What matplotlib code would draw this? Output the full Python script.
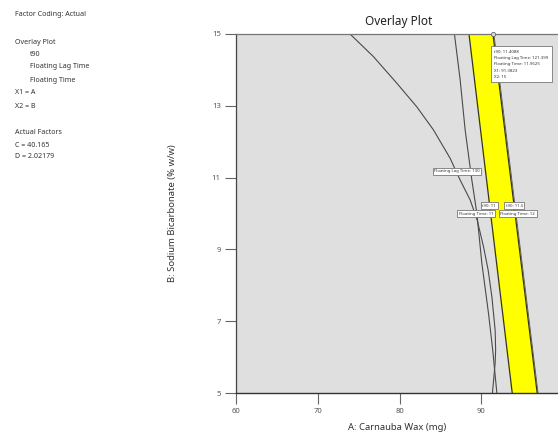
import matplotlib
matplotlib.use('Agg')
import matplotlib.pyplot as plt

plt.rcParams['font.family'] = ['Noto Sans', 'DejaVu Sans']

# contour lines (A, B)
lag130_a = [73.95, 76.81, 79.67, 82.12, 84.15, 86.19, 87.42, 88.64, 89.50, 90.27, 90.84, 91.30, 91.70, 91.76, 91.70, 91.37]
lag130_b = [15.0, 14.37, 13.63, 12.97, 12.33, 11.54, 10.93, 10.38, 9.82, 9.08, 8.43, 7.68, 6.75, 6.20, 5.84, 5.0]
ft11_a = [86.72, 87.42, 88.03, 88.85, 89.46, 90.07, 90.88, 91.40, 91.91]
ft11_b = [15.0, 13.72, 12.33, 10.93, 10.01, 8.62, 7.23, 6.20, 5.0]
t90_11_a = [88.5, 93.79]
t90_11_b = [15.0, 5.0]
t90_115_a = [91.43, 96.84]
t90_115_b = [15.0, 5.0]
ft12_a = [91.55, 96.95]
ft12_b = [15.0, 5.0]

# contour labels
lbl_text = ['Floating Lag Time: 130', 't90: 11', 't90: 11.5', 'Floating Time: 11', 'Floating Time: 12']
lbl_a = [87.05, 90.97, 94.03, 89.38, 94.45]
lbl_b = [11.18, 10.21, 10.21, 9.99, 9.99]

# flag point
flag_a = 91.3823
flag_b = 15
flag_text = 't90: 11.4088\nFloating Lag Time: 121.399\nFloating Time: 11.9625\nX1: 91.3823\nX2: 15'

xticks = [60, 70, 80, 90, 100]
yticks = [5, 7, 9, 11, 13, 15]

fig = plt.figure(figsize=(5.58, 4.41), dpi=100)
ax = fig.add_axes([236/558, 1-393/441, (563-236)/558, (393-34)/441])
ax.set_facecolor('#dfdfdf')

# yellow feasible band between t90 11 and t90 11.5
ax.fill(t90_11_a + t90_115_a[::-1], t90_11_b + t90_115_b[::-1], color='#ffff00', zorder=1)

lc = '#4a4a4a'
ax.plot(lag130_a, lag130_b, color=lc, lw=0.8, zorder=2)
ax.plot(ft11_a, ft11_b, color=lc, lw=0.8, zorder=2)
ax.plot(t90_11_a, t90_11_b, color='#333333', lw=0.9, zorder=2)
ax.plot(t90_115_a, t90_115_b, color='#333333', lw=0.9, zorder=2)
ax.plot(ft12_a, ft12_b, color='#555555', lw=0.6, zorder=2)

for t, a, b in zip(lbl_text, lbl_a, lbl_b):
    ax.text(a, b, t, fontsize=3.1, ha='center', va='center', color='#333333', zorder=4,
            bbox=dict(boxstyle='square,pad=0.35', fc='white', ec='#777777', lw=0.6))

ax.plot([flag_a], [flag_b], marker='o', ms=3, mfc='#dddddd', mec='#666666', mew=0.6,
        clip_on=False, zorder=5)
ax.text(91.62, 14.56, flag_text, fontsize=3.1, ha='left', va='top', color='#333333',
        linespacing=1.75, zorder=5,
        bbox=dict(boxstyle='square,pad=0.8', fc='white', ec='#777777', lw=0.6))

ax.set_xlim(60, 100)
ax.set_ylim(5, 15)
ax.set_xticks(xticks)
ax.set_yticks(yticks)
ax.tick_params(direction='out', length=8, width=0.8, color='#666666', labelsize=5.5,
               labelcolor='#555555', pad=3)
ax.spines['right'].set_visible(False)
ax.spines['left'].set_color('#444444')
ax.spines['bottom'].set_color('#333333')
ax.spines['top'].set_color('#777777')
ax.spines['bottom'].set_linewidth(1.0)
ax.spines['left'].set_linewidth(0.9)
ax.spines['top'].set_linewidth(0.9)

fig.text(399/558, 1-22/441, 'Overlay Plot', fontsize=8.5, ha='center', va='center', color='#222222')
fig.text(397/558, 1-428/441, 'A: Carnauba Wax (mg)', fontsize=6.8, ha='center', va='center', color='#333333')
fig.text(172/558, 1-213/441, 'B: Sodium Bicarbonate (% w/w)', fontsize=6.8, ha='center', va='center',
         rotation=90, color='#333333')

# left info panel
info = [
    (15, 15, 'Factor Coding: Actual', 'normal'),
    (15, 42, 'Overlay Plot', 'bold'),
    (30, 54, 't90', 'normal'),
    (30, 67, 'Floating Lag Time', 'normal'),
    (30, 80, 'Floating Time', 'normal'),
    (15, 93, 'X1 = A', 'normal'),
    (15, 106, 'X2 = B', 'normal'),
    (15, 132, 'Actual Factors', 'bold'),
    (15, 145, 'C = 40.165', 'normal'),
    (15, 157, 'D = 2.02179', 'normal'),
]
for px, py, s, w in info:
    fig.text(px/558, 1-py/441, s, fontsize=5.1, fontweight=w, ha='left', va='center', color='#333333')

fig.savefig('out.png', dpi=100)
